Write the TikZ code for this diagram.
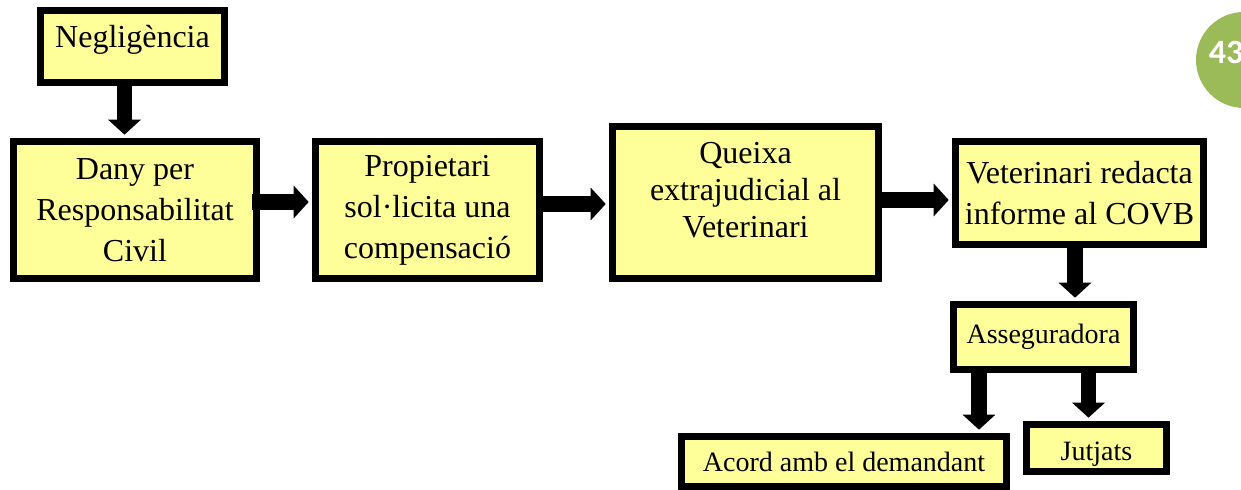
\documentclass[tikz,border=0pt]{standalone}
\usepackage{fontspec}
\setmainfont{Liberation Serif}
\newfontfamily\pagefont{Carlito}
\usetikzlibrary{arrows.meta,calc}
\definecolor{boxfill}{HTML}{FFFF99}
\definecolor{pagegreen}{HTML}{9BBB59}
\begin{document}
\begin{tikzpicture}[x=0.5pt,y=-0.5pt,
  box/.style={draw=black,fill=boxfill,line width=3.6pt,inner sep=0pt,align=center},
  txt/.style={align=center,inner sep=0pt},
  big/.style={font=\fontsize{16}{20.5}\selectfont},
  small/.style={font=\fontsize{14}{17}\selectfont},
  arr/.style={line width=7.8pt,-{Triangle[width=16pt,length=7.5pt]},shorten >=1.6pt}]
\useasboundingbox (0,0) rectangle (1241,490);
\node[circle,fill=pagegreen,minimum size=48pt,inner sep=0pt] (pg) at (1244,60) {};
\node[text=white,font=\pagefont\bfseries\fontsize{17}{19}\selectfont,inner sep=0pt] (pgn) at (1226,52) {43};

\node[box,minimum width=92pt,minimum height=36pt] (neg) at (132.5,46.5) {};
\node[txt,big] (negt) at (132.5,40) {Negligència};
\node[box,big,minimum width=121.5pt,minimum height=68.5pt] (dany) at (135,210) {Dany per\\Responsabilitat\\Civil};
\node[box,big,minimum width=112pt,minimum height=68.5pt] (prop) at (427.5,210) {Propietari\\sol·licita una\\compensació};
\node[box,minimum width=133pt,minimum height=76pt] (queixa) at (745.5,202.5) {};
\node[txt,font=\fontsize{16}{18.5}\selectfont] (queixat) at (745.5,190) {Queixa\\extrajudicial al\\Veterinari};
\node[box,big,minimum width=124pt,minimum height=51.5pt] (vet) at (1079.5,193) {Veterinari redacta\\informe al COVB};
\node[box,small,minimum width=90pt,minimum height=32.5pt] (ass) at (1043.5,337) {Asseguradora};
\node[box,small,minimum width=162.5pt,minimum height=25pt] (acord) at (844,461.5) {Acord amb el demandant};
\node[box,minimum width=70pt,minimum height=23.5pt] (jut) at (1096.5,448) {};
\node[txt,small] (jutt) at (1096.5,454) {Jutjats};

\coordinate (n1) at ([xshift=-4pt]neg.south);
\coordinate (a1) at ([xshift=-32.25pt]ass.south);
\coordinate (a2) at ([xshift=22.5pt]ass.south);
\coordinate (v1) at ([xshift=-2.25pt]vet.south);

\draw[arr] (n1) -- (n1 |- dany.north);
\draw[arr] ([xshift=-4pt,yshift=4pt]dany.east) -- ([yshift=4pt]dany.east -| prop.west);
\draw[arr] ([yshift=3pt]prop.east) -- ([yshift=3pt]prop.east -| queixa.west);
\draw[arr] ([yshift=-3.5pt]vet.west -| queixa.east) -- ([yshift=-3.5pt]vet.west);
\draw[arr] (v1) -- (v1 |- ass.north);
\draw[arr] (a1) -- (a1 |- acord.north);
\draw[arr] (a2) -- (a2 |- jut.north);
\end{tikzpicture}
\end{document}
